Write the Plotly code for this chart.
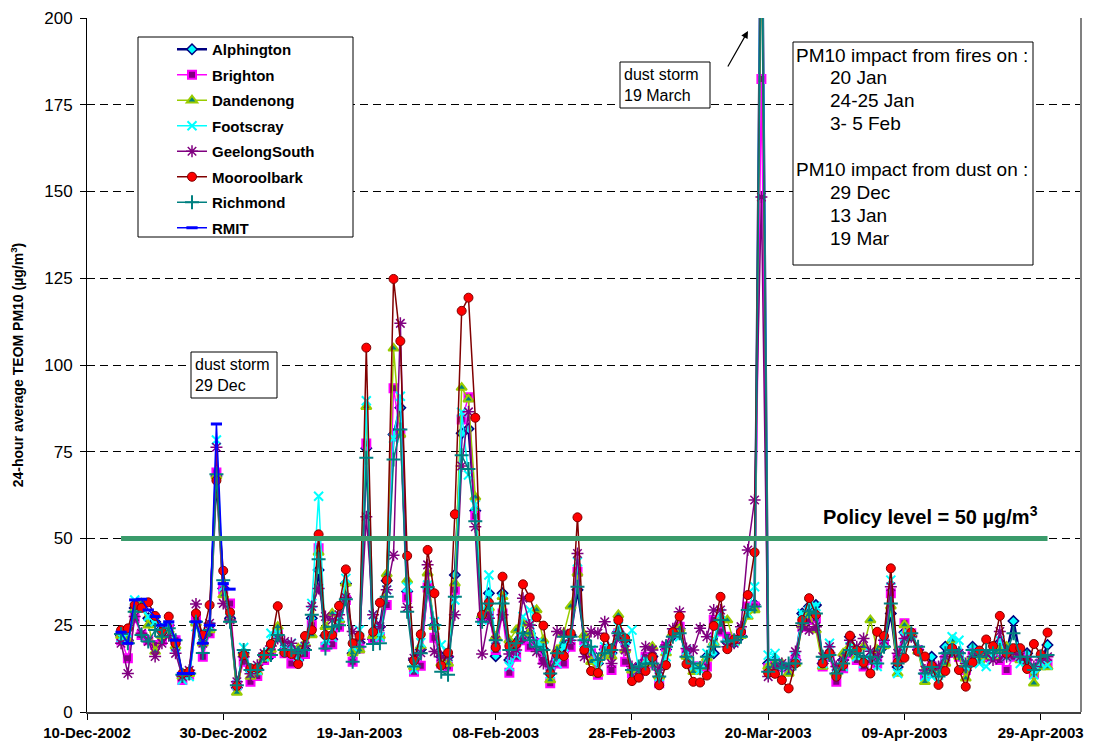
import pandas as pd
import plotly.graph_objects as go

# ---------------- data (24-h average TEOM PM10, ug/m3), daily 15-Dec-2002 .. 30-Apr-2003
start_date = "2002-12-15"

alphington = [22, 20.7, 30, 31, 27, 26, 24, 25, 20.7, 10.5, 11, 26, 19.8, 25, 68, 35.6, 27, 7, 17, 12, 12.5, 16, 16.4, 22, 18, 18, 15,
              18, 27, 40.9, 22, 21, 26, 37, 16.9, 20, 76, 21, 24.6, 37.8, 80, 87.7, 34.7, 15, 18, 36, 25, 15.9, 15.9, 39.5, 80.3, 81.6, 58, 27, 34.2,
              16.1, 34.2, 15, 20, 22, 22.7, 20, 18, 11, 15, 19, 22.2, 35.2, 21.7, 17, 14, 18, 17, 23.2, 20, 12.1, 13, 15, 16, 10, 18, 22, 24,
              16, 13, 13, 16, 16.9, 27, 20, 20, 22, 30, 31, 250, 14, 15, 13, 12, 15, 28.4, 30.4, 30.8, 14, 17, 11, 15, 21.7, 16, 15, 16,
              16, 19, 28.4, 13, 23, 22, 18, 11, 15.9, 12, 18.8, 18, 17, 12, 18.8, 16, 16, 17, 20, 17, 26.2, 16, 16.9, 12, 14, 19.3]

brighton = [20.7, 15.5, 27, 22.2, 20.7, 19.3, 20.7, 24.6, 20.7, 9.2, 10.7, 27.5, 15.9, 22.7, 69, 35.2, 31.3, 7.7, 14.5, 8.7, 10.4, 15, 17, 22.7, 16.9, 14, 15.9,
            16.7, 25, 47.2, 18.8, 19.5, 24.6, 32.3, 14.5, 18.3, 77.4, 21, 21.7, 30.8, 93.3, 80.3, 33, 11.6, 13.3, 35.9, 21.4, 14, 13.1, 35.2, 84.3, 90.7, 56.5, 27, 28.4,
            17.9, 28.4, 11.3, 15.9, 20.7, 18.8, 19.8, 15, 8.3, 14, 14, 18.8, 40.4, 20.7, 16.9, 10.7, 17.9, 12.1, 22.7, 14.5, 11.1, 11.1, 15.9, 14, 8.3, 18.8, 22.7, 24.6,
            16.9, 13.1, 13.1, 13.1, 26.5, 23.2, 21.7, 20.7, 22.7, 30.4, 30.4, 182.4, 12.6, 14, 13.1, 12.1, 15, 24.6, 26.5, 27, 13.1, 15.9, 8.7, 12.6, 16.9, 15, 13.1, 15,
            14, 19.8, 34.2, 15.5, 25.6, 22.7, 17.9, 10.6, 13.1, 12.1, 15, 17, 15.9, 12.1, 16.9, 15.5, 15.9, 15.9, 15, 12.1, 15.9, 15.9, 15, 11.1, 14, 14]

dandenong = [22, 20.7, 29.5, 31.3, 25, 17.4, 22, 23.6, 19, 10.2, 11, 25.6, 19.8, 23.6, 68, 33.7, 26.5, 5.6, 17, 10.2, 11.5, 15.5, 18, 24.6, 17.5, 17, 18.3,
             19.8, 22.2, 46, 24.6, 28.4, 26.5, 37.1, 17, 17.9, 88, 22, 22, 39.8, 104.8, 80, 38, 13, 19, 40, 24.6, 14, 14, 37.1, 93.5, 90.1, 61.9, 28, 30,
             21.7, 33.2, 20.7, 23.6, 25.6, 22.7, 29.4, 20.7, 9.2, 17.9, 22.7, 30.5, 40, 22.2, 14.5, 11.1, 16.9, 16, 28, 17.9, 12, 12.5, 14, 18.8, 10.2, 17, 22.7, 24,
             16, 11.6, 13.1, 15.5, 20, 26.5, 26.5, 20, 22, 27.5, 29.4, 230, 13.1, 14, 14, 11.1, 14, 25, 28, 23.6, 13.1, 17, 11.1, 16.9, 19, 16, 18.8, 26.5,
             17.9, 19, 30.5, 11.1, 25.1, 22.2, 17.5, 8.7, 12, 11, 14, 20.7, 16, 9.7, 16, 15, 16, 16, 18, 18.8, 17, 15, 14, 8.3, 13, 13]

footscray = [21.5, 22.7, 32.3, 30.4, 27.5, 26, 25, 24.6, 18.8, 9.2, 10.2, 24.6, 21.7, 24.6, 78.4, 36.1, 27, 7.7, 18.6, 12.6, 12, 15.9, 22.7, 22.7, 17.9, 19.8, 15.9,
             18.8, 31.3, 62.2, 20.7, 21.5, 27.5, 38.5, 18.8, 23.6, 89.7, 28, 21.7, 35.2, 78.9, 91, 36, 12.3, 20, 36.6, 26, 19.3, 15.9, 32.3, 86.4, 68.3, 59.7, 26.5, 39.5,
             18.8, 32.5, 13.1, 16.4, 27.5, 29.4, 19.8, 18.8, 11, 14, 18.8, 21.7, 43.3, 20, 17.9, 13, 18.8, 17.9, 24.6, 20.7, 23.6, 12.1, 15, 15.5, 10.2, 15.9, 22.7, 21.7,
             17.9, 13.1, 12.1, 16.9, 20.7, 28.4, 19.8, 20.3, 22.7, 28.4, 36.1, 255, 16.4, 16.9, 13.1, 13.1, 15.9, 28.4, 31.3, 30.4, 14, 19.8, 11.1, 13.1, 18.8, 15.9, 14, 17,
             13.1, 19.8, 38, 11.1, 21.7, 22.2, 17.9, 10.2, 10.2, 10.6, 16, 21.7, 20.7, 13.1, 17, 14, 13.1, 16.9, 20.7, 16, 18.8, 14, 15, 10.7, 14, 13.5]

geelong_south = [19.8, 11.1, 27.5, 22.7, 20.3, 16, 19.8, 22, 16.9, 10.2, 12, 31.1, 19.8, 25.6, 76.3, 31.3, 26.5, 8.7, 15.9, 11, 13.5, 16.9, 19, 21.2, 20.3, 19.8, 17,
                 19, 30.4, 35.6, 27.5, 26.5, 28, 33, 23.2, 21, 56.3, 28, 24.6, 35.2, 45.2, 112, 30.2, 15.5, 17.1, 42.4, 17.4, 15.9, 16, 28, 70.9, 86.5, 53.4, 16.7, 27,
                 20.7, 28, 16.7, 17.9, 32.8, 25.1, 17.4, 14, 13.1, 23.2, 22.7, 20.7, 45.7, 15.9, 23.2, 22.7, 26, 14, 22, 17.9, 13.1, 12.1, 18.8, 17.9, 12.1, 19.3, 24, 28.9,
                 18.3, 17.9, 24.1, 21.7, 29.4, 29.4, 18.8, 19.8, 24.6, 46.7, 61.1, 148.4, 10.2, 13, 14, 13, 17.4, 24.6, 23.6, 24.6, 15.9, 18.8, 13.1, 15, 20.7, 18.8, 21.2, 17.5,
                 15.9, 20.7, 36.1, 16.9, 21.2, 21.7, 17.9, 12.1, 12.1, 13.1, 15.9, 17.9, 16.9, 14, 15.9, 16.9, 16.9, 15, 23.2, 15.9, 17, 15.9, 15, 13.1, 15, 15.9]

mooroolbark = [23.6, 24.1, 30.8, 30, 31.6, 27.7, 23.1, 27.5, 19.8, 11.1, 11.6, 28.4, 22.2, 30.8, 66.7, 40.7, 28.7, 7.5, 16.4, 12.6, 12.6, 16.4, 19.6, 30.5, 17.1, 16.7, 13.8,
               21.9, 23.6, 51.2, 22.2, 22.2, 30.6, 41.1, 19.8, 21.9, 105, 23.1, 31.5, 38, 124.8, 106.9, 45, 14.8, 22.4, 46.7, 34.2, 13.4, 17.1, 57, 115.6, 119.4, 84.8, 28, 31.5,
               18.6, 39, 19, 19.6, 36.8, 33, 27.3, 24.9, 11.1, 16.7, 16.1, 22.7, 56.1, 17.9, 11.8, 11.3, 21.5, 18.2, 26.5, 21.2, 8.9, 9.9, 11.8, 15.8, 7.7, 13.5, 23, 27.5,
               13.8, 8.7, 8.5, 10.5, 24.8, 33.2, 18.1, 20.9, 23.1, 33.7, 46, 240, 11.3, 11, 9.2, 6.8, 14, 26.5, 32.8, 28, 14, 16.9, 10.2, 13.5, 22, 17.7, 14.2, 11.1,
               23.1, 21.9, 41.4, 14.3, 15.6, 22.9, 17.4, 16, 13.3, 7.8, 11.8, 18.4, 12.1, 7.3, 14.3, 17.7, 20.9, 19, 27.7, 16.9, 18.4, 18.4, 12.4, 19.6, 16.6, 22.9]

richmond = [22.5, 19.8, 28.9, 22.2, 20.3, 23.6, 21.7, 24.1, 20.7, 10.7, 11.1, 26, 17, 23.6, 68.5, 38, 26, 7.7, 17.9, 12.1, 12.1, 16.4, 16.4, 22.2, 17.9, 17.9, 16.9,
            17.9, 28, 44, 18.3, 24.6, 25, 32.5, 14.5, 18.8, 73.3, 19.6, 19.8, 33.2, 72.8, 81.4, 28.9, 13.1, 16.9, 36, 25.1, 11.6, 10.7, 33.2, 74, 70, 55, 26, 31.3,
            20.7, 31.3, 17.9, 19.8, 22.7, 20.7, 18.8, 17.9, 11.1, 16.9, 21.7, 21.7, 36.1, 20.7, 18.8, 15, 16.9, 17.9, 22.7, 20.7, 12.1, 13.1, 14, 14, 10.2, 18.8, 21.7, 22.7,
            15.9, 14, 12.6, 15.9, 18.8, 26.5, 20.3, 20.7, 21.7, 29.4, 30.4, 235, 11.6, 15, 12.6, 14, 14, 25.6, 29, 28.4, 15.9, 16.4, 11.1, 14, 17.9, 16.9, 15.9, 15.9,
            14, 18.8, 31.3, 14, 18.8, 22.7, 18.8, 11.1, 13, 10.2, 16.9, 17.9, 16.9, 13.1, 17.9, 15.9, 17.9, 16.9, 17.9, 16.9, 22.7, 15.9, 15.9, 12.1, 15.9, 16.4]

rmit = [23, 19.8, 32.3, 32.5, 29.4, 27.5, 25, 26, 20.7, 11.1, 11.1, 26, 19.8, 25, 83, 37, 35.4]

policy_level = 50

station_names = ["Alphington", "Brighton", "Dandenong", "Footscray", "GeelongSouth",
                 "Mooroolbark", "Richmond", "RMIT"]

x_ticks_start = "2002-12-10"
x_range = ["2002-12-10", "2003-05-04 22:00"]
y_range = [0, 200]

fires_lines = ["PM10 impact from fires on :", "20 Jan", "24-25 Jan", "3- 5 Feb"]
dust_lines = ["PM10 impact from dust on :", "29 Dec", "13 Jan", "19 Mar"]

# ---------------- figure
series = [alphington, brighton, dandenong, footscray, geelong_south, mooroolbark, richmond, rmit]

styles = [
    dict(line=dict(color="#000080", width=2.5),
         marker=dict(symbol="diamond", size=8, color="#00FFFF", line=dict(color="#000080", width=1.5))),
    dict(line=dict(color="#FF00FF", width=1.5),
         marker=dict(symbol="square", size=8, color="#800080", line=dict(color="#FF00FF", width=2))),
    dict(line=dict(color="#99CC00", width=1.5),
         marker=dict(symbol="triangle-up", size=9, color="#008080", line=dict(color="#99CC00", width=2))),
    dict(line=dict(color="#00FFFF", width=1.5),
         marker=dict(symbol="x-thin", size=9, color="#00FFFF", line=dict(color="#00FFFF", width=2))),
    dict(line=dict(color="#800080", width=1.5),
         marker=dict(symbol="asterisk", size=10, color="#800080", line=dict(color="#800080", width=1.5))),
    dict(line=dict(color="#800000", width=1.5),
         marker=dict(symbol="circle", size=9, color="#FF0000", line=dict(color="#800000", width=1))),
    dict(line=dict(color="#008080", width=1.5),
         marker=dict(symbol="cross-thin", size=10, color="#008080", line=dict(color="#008080", width=2))),
    dict(line=dict(color="#0000FF", width=1.5),
         marker=dict(symbol="line-ew", size=8, color="#0000FF", line=dict(color="#0000FF", width=3))),
]

fig = go.Figure()
for name, vals, st in zip(station_names, series, styles):
    dates = pd.date_range(start_date, periods=len(vals), freq="D")
    fig.add_trace(go.Scatter(x=dates, y=vals, name=name, mode="lines+markers",
                             legendgroup=name, **st))

all_dates = pd.date_range(start_date, periods=len(mooroolbark), freq="D")
fig.add_trace(go.Scatter(x=[all_dates[0], all_dates[-1]], y=[policy_level, policy_level],
                         mode="lines", line=dict(color="#3A9B6B", width=5),
                         showlegend=False, hoverinfo="skip"))

# page offset (default body margin) and plot-area edges in page pixels
OFF = 8
W, H = 1095 - OFF, 747 - OFF
PL, PR, PT, PB = 87, 1081, 18, 712


def px(v):
    return (v - PL) / (PR - PL)


def py(v):
    return (PB - v) / (PB - PT)


shapes = []
annotations = []

# legend frame
shapes.append(dict(type="rect", xref="paper", yref="paper", x0=px(138), x1=px(353), y0=py(237), y1=py(37),
                   line=dict(color="black", width=1), fillcolor="white", layer="above"))
# info box
shapes.append(dict(type="rect", xref="paper", yref="paper", x0=px(793), x1=px(1033), y0=py(265), y1=py(42),
                   line=dict(color="black", width=1), fillcolor="white", layer="above"))
info_y = [55.7, 77.7, 100.5, 123.3, 170, 192.5, 215, 238]
info_x = [794, 828, 828, 828, 794, 828, 828, 828]
for t, xx, yy in zip(fires_lines + dust_lines, info_x, info_y):
    annotations.append(dict(text=t, xref="paper", yref="paper", x=px(xx), y=py(yy), xanchor="left",
                            yanchor="middle", showarrow=False, font=dict(size=19, color="black")))

# dust storm boxes
for (x0, y0, x1, y1, txt) in [(191, 352, 277, 398, "dust storm<br>29 Dec"),
                              (620, 62, 710, 108, "dust storm<br>19 March")]:
    shapes.append(dict(type="rect", xref="paper", yref="paper", x0=px(x0), x1=px(x1), y0=py(y1), y1=py(y0),
                       line=dict(color="black", width=1), fillcolor="white", layer="above"))
    annotations.append(dict(text=txt, xref="paper", yref="paper", x=px(x0 + 2), y=py((y0 + y1) / 2),
                            xanchor="left", yanchor="middle", align="left", showarrow=False,
                            font=dict(size=16, color="black")))

# arrow for 19 March
annotations.append(dict(text="", xref="paper", yref="paper", x=px(748), y=py(31), ax=-21, ay=37,
                        showarrow=True, arrowhead=2, arrowsize=1.2, arrowwidth=1.2, arrowcolor="black"))

# policy text
annotations.append(dict(text="Policy level = 50 \u00b5g/m<sup>3</sup>", xref="paper", yref="paper",
                        x=px(930), y=py(515), xanchor="center", yanchor="middle", showarrow=False,
                        font=dict(size=20, color="black", weight="bold")))

# right frame line
shapes.append(dict(type="line", xref="paper", yref="paper", x0=1, x1=1, y0=0, y1=1,
                   line=dict(color="#808080", width=2), layer="above"))

fig.update_layout(
    width=W, height=H,
    margin=dict(l=PL - OFF, r=W - (PR - OFF), t=PT - OFF, b=H - (PB - OFF), autoexpand=False),
    plot_bgcolor="white", paper_bgcolor="white",
    font=dict(family="Arial, Liberation Sans, sans-serif", color="black"),
    shapes=shapes, annotations=annotations,
    legend=dict(x=px(172), y=py(33), xanchor="left", yanchor="top",
                font=dict(size=15, weight="bold", color="black"),
                bgcolor="rgba(0,0,0,0)", borderwidth=0, tracegroupgap=3),
    hovermode=False,
)
fig.update_xaxes(type="date", range=x_range, tick0=x_ticks_start, dtick=20 * 86400000,
                 tickformat="%d-%b-%Y", ticks="outside", ticklen=6, tickcolor="black",
                 showline=True, linecolor="#404040", linewidth=2, showgrid=False, zeroline=False,
                 tickfont=dict(size=15, weight="bold"), automargin=False)
fig.update_yaxes(range=y_range, dtick=25, ticks="outside", ticklen=6, tickcolor="black",
                 showline=True, linecolor="black", linewidth=1, showgrid=True,
                 gridcolor="black", gridwidth=1, griddash="8px,5px", zeroline=False,
                 tickfont=dict(size=17), ticklabelstandoff=4, automargin=False,
                 title=dict(text="24-hour average TEOM PM10 (\u00b5g/m<sup>3</sup>)",
                            font=dict(size=14, weight="bold"), standoff=20))

fig.write_html("out.html")
